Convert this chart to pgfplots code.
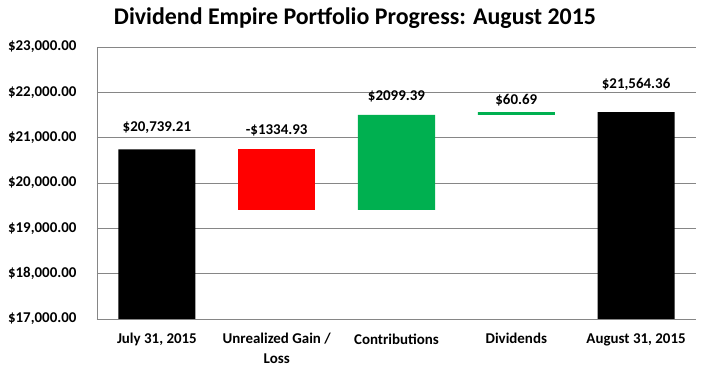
\documentclass[border=0pt]{standalone}
\usepackage{pgfplots}
\pgfplotsset{compat=1.18}
\usepackage{fontspec}
\setmainfont{Carlito}
\definecolor{xred}{HTML}{FF0000}
\definecolor{xgreen}{HTML}{00B050}
\definecolor{gridc}{HTML}{868686}
\begin{document}
\begin{tikzpicture}
\useasboundingbox (-97bp,-53bp) rectangle (605bp,319bp);
\begin{axis}[
  at={(0,0)}, anchor=south west,
  scale only axis, width=599bp, height=272bp,
  ybar stacked, bar width=77bp,
  xmin=-0.5, xmax=4.5, ymin=17000, ymax=23000,
  scaled y ticks=false,
  ytick={17000,18000,19000,20000,21000,22000,23000},
  yticklabels={{\$17,000.00},{\$18,000.00},{\$19,000.00},{\$20,000.00},{\$21,000.00},{\$22,000.00},{\$23,000.00}},
  xtick={0,1,2,3,4},
  xticklabels={{July 31, 2015},{Unrealized Gain /\\Loss},{Contributions},{Dividends},{August 31, 2015}},
  xticklabel style={font=\fontsize{15}{20}\selectfont\bfseries, align=center, anchor=north, yshift=-11bp},
  yticklabel style={font=\fontsize{15}{18}\selectfont\bfseries, anchor=east, xshift=-17bp},
  major tick length=0pt,
  ymajorgrids, grid style={gridc, line width=0.8bp},
  axis x line*=bottom, axis y line*=left,
  axis line style={gridc, line width=0.8bp},
  clip mode=individual,
]
\addplot[draw=none, fill=white, fill opacity=0] coordinates {(0,0) (1,19404.28) (2,19404.28) (3,21503.67) (4,0)};
\addplot[draw=none, fill=black] coordinates {(0,20739.21) (1,0) (2,0) (3,0) (4,21564.36)};
\addplot[draw=none, fill=xred] coordinates {(0,0) (1,1334.93) (2,0) (3,0) (4,0)};
\addplot[draw=none, fill=xgreen] coordinates {(0,0) (1,0) (2,2099.39) (3,60.69) (4,0)};
\node[font=\fontsize{15}{18}\selectfont\bfseries] at (axis cs:0,21213) {\$20,739.21};
\node[font=\fontsize{15}{18}\selectfont\bfseries] at (axis cs:1,21169) {-\$1334.93};
\node[font=\fontsize{15}{18}\selectfont\bfseries] at (axis cs:2,21919) {\$2099.39};
\node[font=\fontsize{15}{18}\selectfont\bfseries] at (axis cs:3,21831) {\$60.69};
\node[font=\fontsize{15}{18}\selectfont\bfseries] at (axis cs:4,22184) {\$21,564.36};
\end{axis}
\node[font=\fontsize{24}{28}\selectfont\bfseries] at (258bp,301bp) {Dividend Empire Portfolio Progress: August 2015};
\end{tikzpicture}
\end{document}
